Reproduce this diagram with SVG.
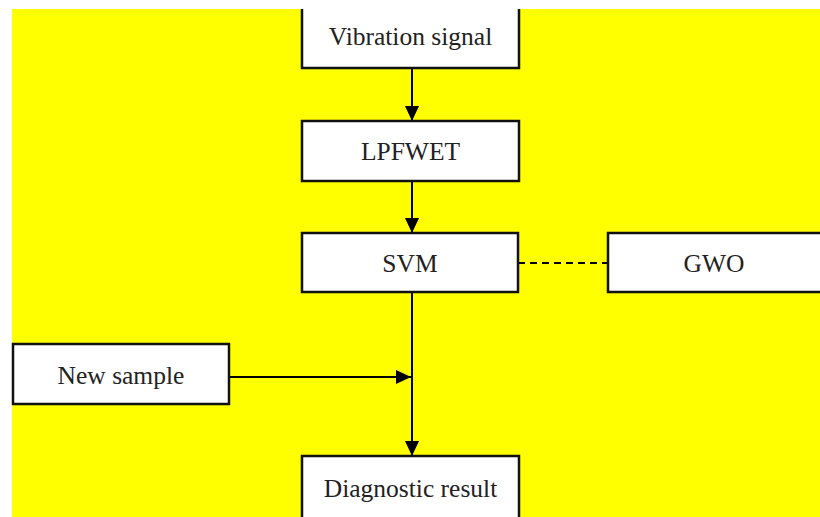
<svg xmlns="http://www.w3.org/2000/svg" width="820" height="517" viewBox="0 0 820 517">
<style>
.box{fill:#fff;stroke:#111;stroke-width:2.5}
.lbl{font-family:"Liberation Serif","Times New Roman",serif;font-size:25.5px;fill:#222;text-anchor:middle}
.ln{stroke:#000;stroke-width:2;fill:none}
</style>
<defs>
<marker id="ah" markerUnits="userSpaceOnUse" markerWidth="15" markerHeight="14" refX="15" refY="7" orient="auto">
<path d="M0,0 L15,7 L0,14 z" fill="#000"/>
</marker>
</defs>
<rect x="0" y="0" width="820" height="517" fill="#fff"/>
<rect x="12" y="9" width="808" height="508" fill="#ffff00"/>
<g id="connectors">
<line class="ln" x1="412" y1="68" x2="412" y2="121" marker-end="url(#ah)"/>
<line class="ln" x1="412" y1="181" x2="412" y2="233" marker-end="url(#ah)"/>
<line class="ln" x1="412" y1="292" x2="412" y2="456" marker-end="url(#ah)"/>
<line class="ln" x1="229" y1="377" x2="411" y2="377" marker-end="url(#ah)"/>
<line class="ln" x1="518" y1="263" x2="608" y2="263" stroke-dasharray="7,5"/>
</g>
<g id="vibration">
<rect x="302" y="0" width="217" height="68" fill="#fff"/>
<path d="M302,9 V68 H519 V9" fill="none" stroke="#111" stroke-width="2.5"/>
<text class="lbl" x="410.5" y="45">Vibration signal</text>
</g>
<g id="lpfwet">
<rect class="box" x="302" y="121" width="217" height="60"/>
<text class="lbl" x="410.5" y="160">LPFWET</text>
</g>
<g id="svm">
<rect class="box" x="302" y="233" width="216" height="59"/>
<text class="lbl" x="410" y="272">SVM</text>
</g>
<g id="gwo">
<rect class="box" x="608" y="233" width="220" height="59"/>
<text class="lbl" x="714" y="272">GWO</text>
</g>
<g id="newsample">
<rect class="box" x="13" y="344" width="216" height="60"/>
<text class="lbl" x="121" y="384">New sample</text>
</g>
<g id="diagnostic">
<rect class="box" x="302" y="456" width="217" height="70"/>
<text class="lbl" x="410.5" y="497">Diagnostic result</text>
</g>
</svg>
